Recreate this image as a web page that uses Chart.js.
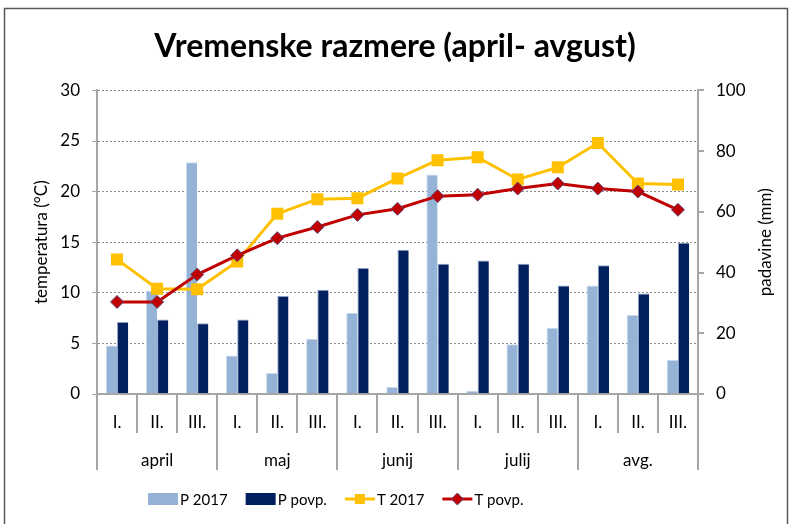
<!DOCTYPE html>
<html>
<head>
<meta charset="utf-8">
<script src="https://cdn.jsdelivr.net/npm/chart.js@4.4.0/dist/chart.umd.min.js"></script>
<style>
  html, body { margin: 0; padding: 0; background: #fff; }
  #wrap { width: 790px; height: 524px; }
</style>
</head>
<body>
<div id="wrap"><canvas id="chart" width="790" height="524"></canvas></div>
<script>
// Data
const categories = ['I.', 'II.', 'III.', 'I.', 'II.', 'III.', 'I.', 'II.', 'III.', 'I.', 'II.', 'III.', 'I.', 'II.', 'III.'];
const months = ['april', 'maj', 'junij', 'julij', 'avg.'];
const p2017 = [16, 34, 76.3, 12.7, 6.9, 18.2, 26.8, 2.3, 72.3, 1.1, 16.4, 21.8, 35.7, 26, 11.2];
const pPovp = [23.7, 24.5, 23.3, 24.5, 32.3, 34.3, 41.5, 47.5, 42.9, 44, 42.9, 35.7, 42.4, 33.1, 49.8];
const t2017 = [13.3, 10.4, 10.35, 13.1, 17.8, 19.25, 19.35, 21.3, 23.1, 23.4, 21.2, 22.4, 24.8, 20.8, 20.7];
const tPovp = [9.1, 9.1, 11.8, 13.7, 15.4, 16.5, 17.7, 18.3, 19.55, 19.7, 20.3, 20.8, 20.3, 20.0, 18.2];
const tempTicks = [0, 5, 10, 15, 20, 25, 30];
const rainTicks = [0, 20, 40, 60, 80, 100];

const FONT = 'Lato, "Open Sans", sans-serif';
const AXIS_GRAY = '#a6a6a6';

// Outer frame, two-level category labels, axis titles and legend
const decorations = {
  id: 'decorations',
  beforeDraw(chart) {
    const ctx = chart.ctx;
    ctx.save();
    ctx.strokeStyle = '#595959';
    ctx.lineWidth = 1.5;
    ctx.beginPath();
    ctx.moveTo(4.5, 530);
    ctx.lineTo(4.5, 8.5);
    ctx.lineTo(787.5, 8.5);
    ctx.lineTo(787.5, 530);
    ctx.stroke();
    ctx.restore();
  },
  afterDraw(chart) {
    const { ctx, chartArea, scales: { x } } = chart;
    const half = (x.getPixelForValue(1) - x.getPixelForValue(0)) / 2;
    const top = chartArea.bottom;

    ctx.save();
    // separators below the axis
    ctx.strokeStyle = AXIS_GRAY;
    ctx.lineWidth = 2;
    for (let i = 0; i <= categories.length; i++) {
      const xp = i < categories.length ? x.getPixelForValue(i) - half : x.getPixelForValue(i - 1) + half;
      const bottom = i % 3 === 0 ? top + 76 : top + 39;
      ctx.beginPath();
      ctx.moveTo(Math.round(xp), top);
      ctx.lineTo(Math.round(xp), bottom);
      ctx.stroke();
    }

    ctx.fillStyle = '#000';
    ctx.textAlign = 'center';
    ctx.textBaseline = 'middle';
    ctx.font = '17px ' + FONT;
    categories.forEach((c, i) => ctx.fillText(c, x.getPixelForValue(i), top + 29));
    months.forEach((m, j) => {
      const mid = (x.getPixelForValue(j * 3) + x.getPixelForValue(j * 3 + 2)) / 2;
      ctx.fillText(m, mid, top + 67);
    });

    // axis titles
    const midY = (chartArea.top + chartArea.bottom) / 2;
    ctx.font = '17px ' + FONT;
    ctx.save();
    ctx.translate(42, midY);
    ctx.rotate(-Math.PI / 2);
    ctx.fillText('temperatura (°C)', 0, 0);
    ctx.restore();
    ctx.save();
    ctx.translate(766, midY);
    ctx.rotate(-Math.PI / 2);
    ctx.fillText('padavine (mm)', 0, 0);
    ctx.restore();

    // legend
    ctx.font = '15px ' + FONT;
    ctx.textAlign = 'left';
    const ly = 499;
    let lx = 148;
    [0, 1, 2, 3].forEach(k => {
      const ds = chart.data.datasets[k];
      if (ds.type === 'line') {
        ctx.strokeStyle = ds.borderColor;
        ctx.lineWidth = 3;
        ctx.beginPath();
        ctx.moveTo(lx, ly);
        ctx.lineTo(lx + 30, ly);
        ctx.stroke();
        ctx.fillStyle = ds.pointBackgroundColor;
        ctx.strokeStyle = ds.pointBorderColor;
        ctx.lineWidth = 1;
        ctx.beginPath();
        if (ds.pointStyle === 'rect') {
          ctx.rect(lx + 10, ly - 5, 10, 10);
        } else {
          ctx.moveTo(lx + 15, ly - 6);
          ctx.lineTo(lx + 21, ly);
          ctx.lineTo(lx + 15, ly + 6);
          ctx.lineTo(lx + 9, ly);
          ctx.closePath();
        }
        ctx.fill();
        if (ds.pointBorderWidth) ctx.stroke();
      } else {
        ctx.fillStyle = ds.backgroundColor;
        ctx.fillRect(lx, ly - 6, 30, 12);
      }
      ctx.fillStyle = '#000';
      ctx.fillText(ds.label, lx + 32, ly + 1);
      lx += 32 + ctx.measureText(ds.label).width + 18;
    });
    ctx.restore();
  }
};

const ctx = document.getElementById('chart').getContext('2d');

new Chart(ctx, {
  type: 'bar',
  data: {
    labels: categories,
    datasets: [
      {
        type: 'bar',
        label: 'P 2017',
        data: p2017,
        yAxisID: 'y1',
        backgroundColor: '#95B3D7',
        borderColor: '#c9d8ea',
        borderWidth: { top: 1, left: 1, right: 0, bottom: 0 },
        order: 2
      },
      {
        type: 'bar',
        label: 'P povp.',
        data: pPovp,
        yAxisID: 'y1',
        backgroundColor: '#002060',
        borderColor: '#8a9cc0',
        borderWidth: { top: 1, left: 1, right: 0, bottom: 0 },
        order: 3
      },
      {
        type: 'line',
        label: 'T 2017',
        data: t2017,
        yAxisID: 'y',
        borderColor: '#FFC000',
        backgroundColor: '#FFC000',
        borderWidth: 3,
        pointStyle: 'rect',
        pointRadius: 8.5,
        pointBackgroundColor: '#FFC000',
        pointBorderColor: '#FFC000',
        pointBorderWidth: 0,
        tension: 0,
        order: 1
      },
      {
        type: 'line',
        label: 'T povp.',
        data: tPovp,
        yAxisID: 'y',
        borderColor: '#C00000',
        backgroundColor: '#C00000',
        borderWidth: 3,
        pointStyle: 'rectRot',
        pointRadius: 6.5,
        pointBackgroundColor: '#C00000',
        pointBorderColor: '#604A7B',
        pointBorderWidth: 1,
        tension: 0,
        order: 0
      }
    ]
  },
  options: {
    responsive: false,
    animation: false,
    devicePixelRatio: 1,
    layout: { padding: 0 },
    datasets: {
      bar: { categoryPercentage: 0.56, barPercentage: 1 }
    },
    plugins: {
      legend: { display: false },
      tooltip: { enabled: false },
      title: {
        display: true,
        text: 'Vremenske razmere (april- avgust)',
        color: '#000',
        font: { family: FONT, size: 32, weight: 'bold' },
        padding: { top: 27, bottom: 25 }
      }
    },
    scales: {
      x: {
        type: 'category',
        offset: true,
        grid: { display: false },
        ticks: { display: false },
        border: { color: AXIS_GRAY, width: 2 },
        afterFit(scale) { scale.height = 130; }
      },
      y: {
        position: 'left',
        min: 0,
        max: 30,
        afterBuildTicks(scale) { scale.ticks = tempTicks.map(v => ({ value: v })); },
        ticks: { color: '#000', font: { family: FONT, size: 17 }, padding: 12 },
        grid: {
          color: '#8c8c8c',
          tickColor: AXIS_GRAY,
          tickLength: 5,
          tickBorderDash: [],
          lineWidth: 1
        },
        border: { color: AXIS_GRAY, width: 2, dash: [2, 2] },
        afterFit(scale) { scale.width = 97; }
      },
      y1: {
        position: 'right',
        min: 0,
        max: 100,
        afterBuildTicks(scale) { scale.ticks = rainTicks.map(v => ({ value: v })); },
        ticks: { color: '#000', font: { family: FONT, size: 17 }, padding: 12 },
        grid: {
          drawOnChartArea: false,
          color: AXIS_GRAY,
          tickColor: AXIS_GRAY,
          tickLength: 6,
          lineWidth: 2
        },
        border: { color: AXIS_GRAY, width: 2 },
        afterFit(scale) { scale.width = 92; }
      }
    }
  },
  plugins: [decorations]
});
</script>
</body>
</html>
